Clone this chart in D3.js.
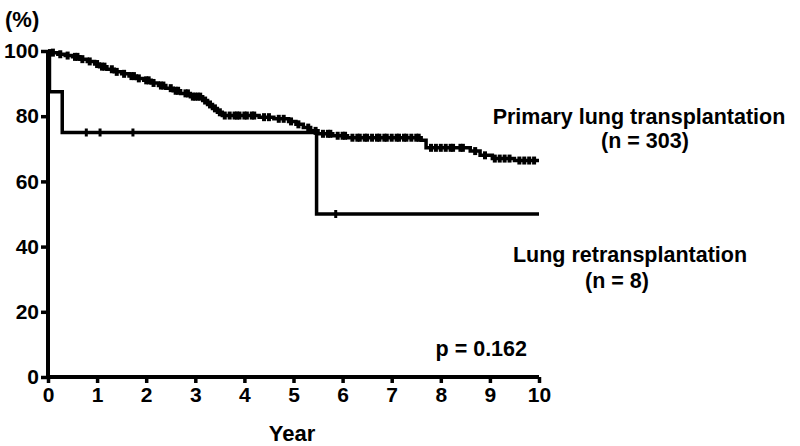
<!DOCTYPE html>
<html lang="en">
<head>
<meta charset="UTF-8">
<title>Survival after lung transplantation</title>
<script src="https://d3js.org/d3.v7.min.js"></script>
<style>
    body { margin: 0; background: #fff; }
    svg { display: block; font-family: "Liberation Sans", Arial, sans-serif; font-weight: bold; }
</style>
</head>
<body>
<svg id="chart" width="800" height="446"></svg>
<script>
// primary lung transplantation (n = 303): step times (years) and survival (%)
var primaryTimes = [0, 0.08, 0.2, 0.35, 0.5, 0.65, 0.8, 0.95, 1.05, 1.2, 1.35, 1.5, 1.65, 1.8, 1.95, 2.1, 2.25, 2.4, 2.55, 2.7, 2.9, 3.15, 3.25, 3.35, 3.45, 3.55, 4.3, 4.6, 4.9, 5.05, 5.2, 5.35, 5.5, 5.8, 6.1, 7.6, 7.7, 8.6, 8.8, 9.05, 9.5, 10];
var primarySurv  = [100, 99.5, 99, 98.6, 98.2, 97.5, 96.8, 96, 95.2, 94.4, 93.6, 93, 92.3, 91.6, 91, 90.2, 89.4, 88.6, 87.8, 87, 86, 84.8, 83.6, 82.4, 81.2, 80.2, 79.7, 79.2, 78.4, 77.5, 76.5, 75.5, 74.6, 74, 73.4, 72.6, 70.3, 69.3, 68, 67, 66.4, 66.4];
var primaryCensor = [0.1, 0.25, 0.4, 0.55, 0.6, 0.7, 0.85, 1.0, 1.1, 1.15, 1.3, 1.4, 1.55, 1.7, 1.75, 1.85, 2.0, 2.05, 2.15, 2.3, 2.35, 2.5, 2.6, 2.65, 2.8, 2.85, 2.95, 3.0, 3.05, 3.1, 3.2, 3.3, 3.4, 3.5, 3.6, 3.7, 3.8, 3.85, 3.9, 4.0, 4.05, 4.15, 4.2, 4.4, 4.5, 4.7, 4.8, 4.95, 5.1, 5.3, 5.45, 5.6, 5.7, 5.75, 5.9, 6.0, 6.05, 6.2, 6.3, 6.35, 6.45, 6.5, 6.6, 6.7, 6.75, 6.85, 6.9, 7.0, 7.1, 7.15, 7.25, 7.3, 7.4, 7.5, 7.55, 7.8, 7.9, 8.0, 8.1, 8.2, 8.25, 8.4, 8.45, 8.7, 8.9, 9.1, 9.2, 9.3, 9.4, 9.6, 9.7, 9.8, 9.9];

// lung retransplantation (n = 8)
var retxTimes = [0, 0.03, 0.29, 5.47, 10];
var retxSurv  = [100, 87.5, 75, 50, 50];
var retxCensor = [0.78, 1.06, 1.73, 5.86];

var xTicks = [0, 1, 2, 3, 4, 5, 6, 7, 8, 9, 10];
var yTicks = [0, 20, 40, 60, 80, 100];

var svg = d3.select("#chart");

var x = d3.scaleLinear().domain([0, 10]).range([48, 539]);
var y = d3.scaleLinear().domain([0, 100]).range([377, 51]);

// step function value at time t
function survAt(times, surv, t) {
    var i = d3.bisectRight(times, t) - 1;
    return surv[Math.max(0, i)];
}

var line = d3.line()
    .curve(d3.curveStepAfter)
    .x(d => x(d[0]))
    .y(d => y(d[1]));

function drawCurve(times, surv, censor, w) {
    var pts = times.map((t, i) => [t, surv[i]]);
    svg.append("path")
        .datum(pts)
        .attr("d", line)
        .attr("fill", "none")
        .attr("stroke", "#000")
        .attr("stroke-width", 3.5);

    svg.append("g").selectAll("line")
        .data(censor)
        .enter().append("line")
        .attr("x1", d => x(d))
        .attr("x2", d => x(d))
        .attr("y1", d => y(survAt(times, surv, d)) - 4)
        .attr("y2", d => y(survAt(times, surv, d)) + 4)
        .attr("stroke", "#000")
        .attr("stroke-width", w);
}

drawCurve(primaryTimes, primarySurv, primaryCensor, 4);
drawCurve(retxTimes, retxSurv, retxCensor, 3);

// axes
var xAxis = svg.append("g")
    .attr("transform", "translate(0," + y(0) + ")")
    .call(d3.axisBottom(x).tickValues(xTicks).tickSize(6).tickPadding(4).tickFormat(d3.format("d")));
var yAxis = svg.append("g")
    .attr("transform", "translate(" + x(0) + ",0)")
    .call(d3.axisLeft(y).tickValues(yTicks).tickSize(7).tickPadding(2).tickFormat(d3.format("d")));

[xAxis, yAxis].forEach(function(a) {
    a.select(".domain").attr("stroke", "#000").attr("stroke-width", 4);
    a.selectAll(".tick line").attr("stroke", "#000").attr("stroke-width", 3.5);
    a.selectAll(".tick text")
        .attr("fill", "#000")
        .style("font-size", "21px")
        .style("font-weight", "bold")
        .style("font-family", "'Liberation Sans', Arial, sans-serif");
});
xAxis.select(".domain").attr("d", "M" + x(0) + ",0H" + x(10));
yAxis.select(".domain").attr("d", "M0," + y(0) + "V" + y(100));

// labels
function label(txt, px, py, anchor, size) {
    svg.append("text")
        .attr("x", px).attr("y", py)
        .attr("text-anchor", anchor)
        .style("font-size", size + "px")
        .text(txt);
}
label("(%)", 5, 27, "start", 22);
label("Year", 292, 441, "middle", 22);
label("Primary lung transplantation", 639, 124, "middle", 21.5);
label("(n = 303)", 645, 148, "middle", 21.5);
label("Lung retransplantation", 630, 262, "middle", 21.5);
label("(n = 8)", 617, 288, "middle", 21.5);
label("p = 0.162", 527, 356, "end", 21.5);
</script>
</body>
</html>
